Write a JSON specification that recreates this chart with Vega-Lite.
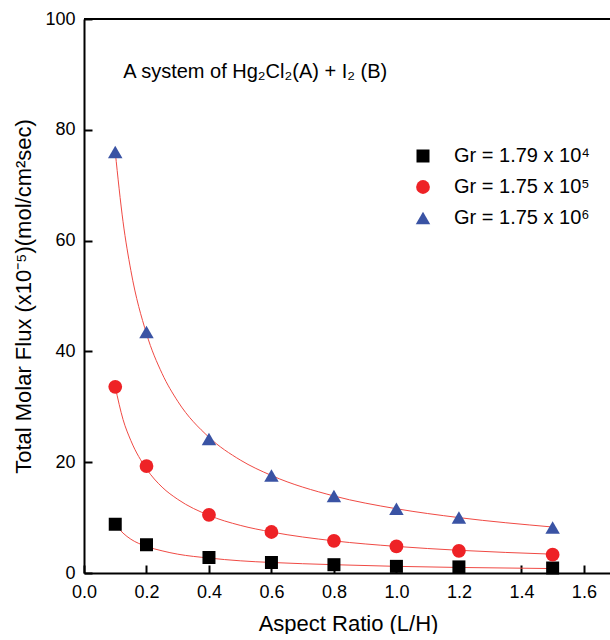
{
  "$schema": "https://vega.github.io/schema/vega-lite/v6.json",
  "width": 528,
  "height": 554,
  "padding": {"left": 12, "top": 10, "right": 0, "bottom": 0},
  "background": "white",
  "config": {
    "view": {"stroke": null},
    "font": "Liberation Sans",
    "axis": {"grid": false, "labelFlush": false, "domainColor": "black", "domainWidth": 2, "tickColor": "black", "tickWidth": 2, "tickSize": -8, "labelFont": "Liberation Sans", "labelFontSize": 18, "labelColor": "black", "titleFont": "Liberation Sans", "titleFontSize": 22, "titleFontWeight": "normal", "titleColor": "black"}
  },
  "datasets": {
    "points": [
      {"ar": 0.1, "flux": 8.8, "series": "Gr = 1.79 x 10⁴"},
      {"ar": 0.2, "flux": 5.1, "series": "Gr = 1.79 x 10⁴"},
      {"ar": 0.4, "flux": 2.8, "series": "Gr = 1.79 x 10⁴"},
      {"ar": 0.6, "flux": 1.9, "series": "Gr = 1.79 x 10⁴"},
      {"ar": 0.8, "flux": 1.5, "series": "Gr = 1.79 x 10⁴"},
      {"ar": 1.0, "flux": 1.2, "series": "Gr = 1.79 x 10⁴"},
      {"ar": 1.2, "flux": 1.1, "series": "Gr = 1.79 x 10⁴"},
      {"ar": 1.5, "flux": 0.9, "series": "Gr = 1.79 x 10⁴"},
      {"ar": 0.1, "flux": 33.6, "series": "Gr = 1.75 x 10⁵"},
      {"ar": 0.2, "flux": 19.3, "series": "Gr = 1.75 x 10⁵"},
      {"ar": 0.4, "flux": 10.5, "series": "Gr = 1.75 x 10⁵"},
      {"ar": 0.6, "flux": 7.4, "series": "Gr = 1.75 x 10⁵"},
      {"ar": 0.8, "flux": 5.8, "series": "Gr = 1.75 x 10⁵"},
      {"ar": 1.0, "flux": 4.8, "series": "Gr = 1.75 x 10⁵"},
      {"ar": 1.2, "flux": 4.0, "series": "Gr = 1.75 x 10⁵"},
      {"ar": 1.5, "flux": 3.3, "series": "Gr = 1.75 x 10⁵"},
      {"ar": 0.1, "flux": 76.0, "series": "Gr = 1.75 x 10⁶"},
      {"ar": 0.2, "flux": 43.5, "series": "Gr = 1.75 x 10⁶"},
      {"ar": 0.4, "flux": 24.2, "series": "Gr = 1.75 x 10⁶"},
      {"ar": 0.6, "flux": 17.6, "series": "Gr = 1.75 x 10⁶"},
      {"ar": 0.8, "flux": 13.9, "series": "Gr = 1.75 x 10⁶"},
      {"ar": 1.0, "flux": 11.6, "series": "Gr = 1.75 x 10⁶"},
      {"ar": 1.2, "flux": 10.0, "series": "Gr = 1.75 x 10⁶"},
      {"ar": 1.5, "flux": 8.2, "series": "Gr = 1.75 x 10⁶"}
    ],
    "curves": [
      {"ar": 0.1, "flux": 8.8, "series": "a"},
      {"ar": 0.125, "flux": 7.2, "series": "a"},
      {"ar": 0.15, "flux": 6.1, "series": "a"},
      {"ar": 0.2, "flux": 4.8, "series": "a"},
      {"ar": 0.25, "flux": 4.0, "series": "a"},
      {"ar": 0.3, "flux": 3.4, "series": "a"},
      {"ar": 0.4, "flux": 2.7, "series": "a"},
      {"ar": 0.5, "flux": 2.2, "series": "a"},
      {"ar": 0.6, "flux": 1.9, "series": "a"},
      {"ar": 0.8, "flux": 1.5, "series": "a"},
      {"ar": 1.0, "flux": 1.2, "series": "a"},
      {"ar": 1.2, "flux": 1.0, "series": "a"},
      {"ar": 1.5, "flux": 0.8, "series": "a"},
      {"ar": 0.1, "flux": 33.6, "series": "b"},
      {"ar": 0.125, "flux": 27.7, "series": "b"},
      {"ar": 0.15, "flux": 23.9, "series": "b"},
      {"ar": 0.2, "flux": 18.8, "series": "b"},
      {"ar": 0.25, "flux": 15.5, "series": "b"},
      {"ar": 0.3, "flux": 13.3, "series": "b"},
      {"ar": 0.4, "flux": 10.4, "series": "b"},
      {"ar": 0.5, "flux": 8.6, "series": "b"},
      {"ar": 0.6, "flux": 7.4, "series": "b"},
      {"ar": 0.8, "flux": 5.8, "series": "b"},
      {"ar": 1.0, "flux": 4.8, "series": "b"},
      {"ar": 1.2, "flux": 4.1, "series": "b"},
      {"ar": 1.5, "flux": 3.4, "series": "b"},
      {"ar": 0.1, "flux": 76.0, "series": "c"},
      {"ar": 0.125, "flux": 63.4, "series": "c"},
      {"ar": 0.15, "flux": 54.6, "series": "c"},
      {"ar": 0.2, "flux": 43.2, "series": "c"},
      {"ar": 0.25, "flux": 36.0, "series": "c"},
      {"ar": 0.3, "flux": 31.0, "series": "c"},
      {"ar": 0.4, "flux": 24.5, "series": "c"},
      {"ar": 0.5, "flux": 20.4, "series": "c"},
      {"ar": 0.6, "flux": 17.6, "series": "c"},
      {"ar": 0.8, "flux": 13.9, "series": "c"},
      {"ar": 1.0, "flux": 11.6, "series": "c"},
      {"ar": 1.2, "flux": 10.0, "series": "c"},
      {"ar": 1.5, "flux": 8.3, "series": "c"}
    ],
    "note": [{"ar": 0.126, "flux": 90.4, "label": "A system of Hg₂Cl₂(A) + I₂ (B)"}]
  },
  "layer": [
    {
      "data": {"values": [{"v": 100}]},
      "mark": {"type": "rule", "color": "black", "strokeWidth": 2},
      "encoding": {"y": {"field": "v", "type": "quantitative", "scale": {"domain": [0, 100]}}}
    },
    {
      "data": {"name": "curves"},
      "mark": {"type": "line", "color": "#f04a44", "strokeWidth": 1, "interpolate": "monotone"},
      "encoding": {
        "x": {"field": "ar", "type": "quantitative"},
        "y": {"field": "flux", "type": "quantitative"},
        "detail": {"field": "series"}
      }
    },
    {
      "data": {"name": "points"},
      "mark": {"type": "point", "filled": true, "opacity": 1},
      "encoding": {
        "x": {"field": "ar", "type": "quantitative", "title": "Aspect Ratio (L/H)",
              "scale": {"domain": [0, 1.69], "nice": false},
              "axis": {"values": [0, 0.2, 0.4, 0.6, 0.8, 1.0, 1.2, 1.4, 1.6], "format": ".1f", "labelPadding": 18, "titlePadding": 12}},
        "y": {"field": "flux", "type": "quantitative", "title": "Total Molar Flux (x10⁻⁵)(mol/cm²sec)",
              "scale": {"domain": [0, 100], "nice": false},
              "axis": {"values": [0, 20, 40, 60, 80, 100], "labelPadding": 17, "titlePadding": 9}},
        "color": {"field": "series", "type": "nominal", "sort": null,
                  "scale": {"domain": ["Gr = 1.79 x 10⁴", "Gr = 1.75 x 10⁵", "Gr = 1.75 x 10⁶"], "range": ["#000000", "#ee2226", "#3a53a4"]},
                  "legend": {"title": null, "orient": "none", "legendX": 329, "legendY": 127, "labelFontSize": 20, "labelFont": "Liberation Sans", "labelColor": "black", "symbolSize": 180, "rowPadding": 11, "labelOffset": 21}},
        "shape": {"field": "series", "type": "nominal", "sort": null,
                  "scale": {"domain": ["Gr = 1.79 x 10⁴", "Gr = 1.75 x 10⁵", "Gr = 1.75 x 10⁶"], "range": ["square", "circle", "triangle-up"]}},
        "size": {"field": "series", "type": "nominal",
                 "scale": {"domain": ["Gr = 1.79 x 10⁴", "Gr = 1.75 x 10⁵", "Gr = 1.75 x 10⁶"], "range": [169, 210, 440]}, "legend": null}
      }
    },
    {
      "data": {"name": "note"},
      "mark": {"type": "text", "align": "left", "baseline": "middle", "fontSize": 20, "font": "Liberation Sans", "color": "black"},
      "encoding": {
        "x": {"field": "ar", "type": "quantitative"},
        "y": {"field": "flux", "type": "quantitative"},
        "text": {"field": "label"}
      }
    }
  ]
}
